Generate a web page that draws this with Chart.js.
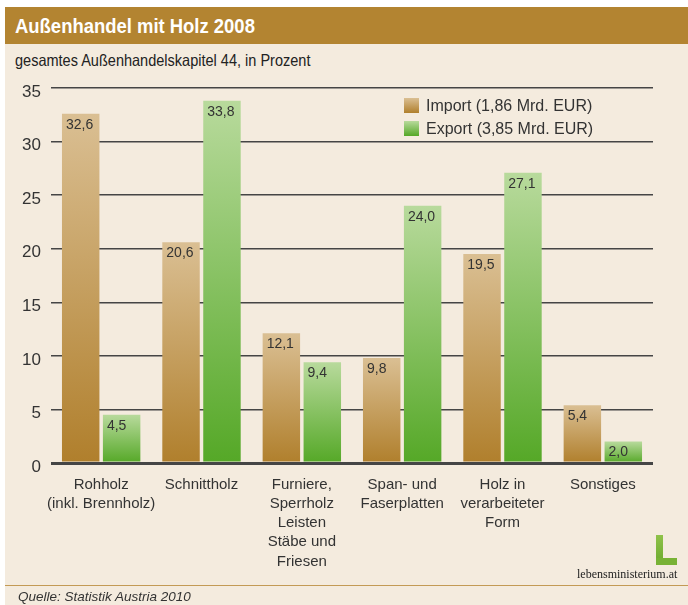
<!DOCTYPE html>
<html>
<head>
<meta charset="utf-8">
<script src="https://cdn.jsdelivr.net/npm/chart.js@4"></script>
<style>
  body { margin: 0; background: #fff; font-family: "Liberation Sans", Arial, sans-serif; }
  #wrap { position: relative; width: 688px; height: 605px; overflow: hidden; }
  #panel { position: absolute; left: 5px; top: 7px; right: 0; bottom: 0; background: #f4ebde; }
  #head { position: absolute; left: 5px; top: 7px; right: 0; height: 37px; background: #b38431; }
  #headT { position: absolute; left: 15px; top: 7px; color: #fff; font-weight: bold; font-size: 20.5px;
           line-height: 37px; transform: scaleX(0.9); transform-origin: left center; white-space: nowrap; }
  #sub { position: absolute; left: 15px; top: 49px; font-size: 16.5px; line-height: 22px; color: #222;
         transform: scaleX(0.88); transform-origin: left center; white-space: nowrap; }
  #chartBox { position: absolute; left: 0; top: 0; width: 688px; height: 605px; }
  #legend { position: absolute; left: 404px; top: 94px; font-size: 16px; color: #333; }
  #legend .row { height: 23px; line-height: 17px; display: flex; align-items: center; }
  #legend .box { width: 15px; height: 15px; margin-right: 7px; }
  #foot { position: absolute; left: 5px; right: 0; top: 585px; height: 1px; background: #c39a55; }
  #src { position: absolute; left: 18px; top: 589px; font-size: 13.5px; font-style: italic; color: #333; }
  #logoV { position: absolute; left: 656px; top: 535px; width: 7px; height: 30px; background: linear-gradient(#8fc24a, #6aa82c); }
  #logoH { position: absolute; left: 656px; top: 558px; width: 21px; height: 7px; background: #78b235; }
  #logoT { position: absolute; left: 577px; top: 567px; font-family: "Liberation Serif", serif; font-size: 12px; color: #222; }
</style>
</head>
<body>
<div id="wrap">
  <div id="panel"></div>
  <div id="head"></div>
  <div id="headT">Außenhandel mit Holz 2008</div>
  <div id="sub">gesamtes Außenhandelskapitel 44, in Prozent</div>
  <div id="chartBox"><canvas id="holzChart"></canvas></div>
  <div id="legend"></div>
  <div id="foot"></div>
  <div id="src">Quelle: Statistik Austria 2010</div>
  <div id="logoV"></div><div id="logoH"></div>
  <div id="logoT">lebensministerium.at</div>
</div>
<script>
// Daten
const categories = [
    ['Rohholz', '(inkl. Brennholz)'],
    ['Schnittholz'],
    ['Furniere,', 'Sperrholz', 'Leisten', 'Stäbe und', 'Friesen'],
    ['Span- und', 'Faserplatten'],
    ['Holz in', 'verarbeiteter', 'Form'],
    ['Sonstiges']
];
const seriesLabels = ['Import (1,86 Mrd. EUR)', 'Export (3,85 Mrd. EUR)'];
const importValues = [32.6, 20.6, 12.1, 9.8, 19.5, 5.4];
const exportValues = [4.5, 33.8, 9.4, 24.0, 27.1, 2.0];
const yMin = 0, yMax = 35, yStep = 5;

const importColors = ['#dabf93', '#b07f2c'];
const exportColors = ['#b8da9c', '#55a827'];

function barGradient(colors) {
    return (c) => {
        const chart = c.chart;
        if (!chart.chartArea || c.type !== 'data') return colors[1];
        const y = chart.scales.y;
        const g = chart.ctx.createLinearGradient(0, y.getPixelForValue(c.raw), 0, y.getPixelForValue(0));
        g.addColorStop(0, colors[0]);
        g.addColorStop(1, colors[1]);
        return g;
    };
}

// Werte oben in den Balken
const valueLabels = {
    id: 'valueLabels',
    afterDatasetsDraw(chart) {
        const ctx = chart.ctx;
        ctx.save();
        ctx.font = '14px "Liberation Sans", Arial, sans-serif';
        ctx.fillStyle = '#333';
        ctx.textAlign = 'left';
        ctx.textBaseline = 'middle';
        chart.data.datasets.forEach((ds, i) => {
            chart.getDatasetMeta(i).data.forEach((bar, j) => {
                const txt = ds.data[j].toFixed(1).replace('.', ',');
                ctx.fillText(txt, bar.x - bar.width / 2 + 4, bar.y + 11);
            });
        });
        ctx.restore();
    }
};

const ctx = document.getElementById('holzChart').getContext('2d');
const holzChart = new Chart(ctx, {
    type: 'bar',
    data: {
        labels: categories,
        datasets: [{
            label: seriesLabels[0],
            data: importValues,
            backgroundColor: barGradient(importColors),
            borderWidth: 0
        }, {
            label: seriesLabels[1],
            data: exportValues,
            backgroundColor: barGradient(exportColors),
            borderWidth: 0
        }]
    },
    options: {
        responsive: true,
        maintainAspectRatio: false,
        animation: false,
        categoryPercentage: 0.816,
        barPercentage: 0.915,
        layout: { padding: { left: 0, top: 88, right: 35, bottom: 0 } },
        scales: {
            x: {
                grid: { display: false, drawTicks: false },
                border: { display: false },
                ticks: {
                    padding: 12,
                    color: '#333',
                    font: { size: 15, family: '"Liberation Sans", Arial, sans-serif', lineHeight: 1.28 },
                    maxRotation: 0,
                    autoSkip: false
                },
                afterFit: (s) => { s.height = 142; }
            },
            y: {
                min: yMin,
                max: yMax,
                grid: {
                    drawTicks: false,
                    color: '#454545',
                    lineWidth: (c) => c.tick && c.tick.value === 0 ? 3 : 1.5
                },
                border: { display: false },
                ticks: {
                    stepSize: yStep,
                    padding: 10,
                    labelOffset: 4,
                    color: '#333',
                    font: { size: 17, family: '"Liberation Sans", Arial, sans-serif' }
                },
                afterFit: (s) => { s.width = 51; }
            }
        },
        plugins: {
            legend: { display: false },
            tooltip: { enabled: false }
        }
    },
    plugins: [valueLabels]
});

// Legende
const legendDiv = document.getElementById('legend');
[importColors, exportColors].forEach((col, i) => {
    legendDiv.innerHTML += `<div class="row"><div class="box" style="background:linear-gradient(${col[0]}, ${col[1]})"></div>${seriesLabels[i]}</div>`;
});
</script>
</body>
</html>
